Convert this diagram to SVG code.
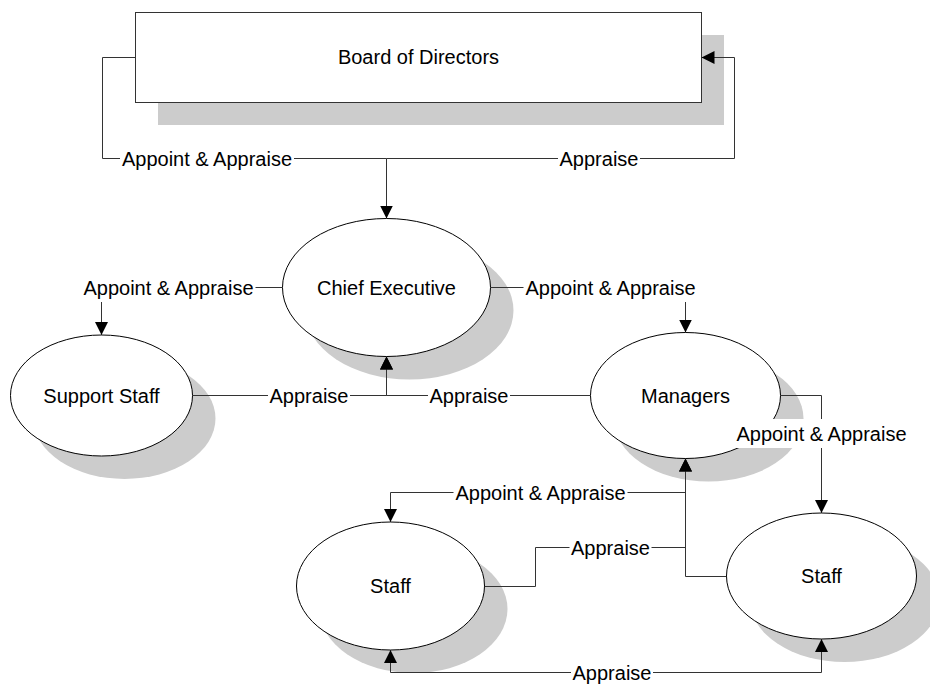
<svg xmlns="http://www.w3.org/2000/svg" width="930" height="685" viewBox="0 0 930 685">
  <style>
    .shadow { fill: #cccccc; stroke: none; }
    .node { fill: #ffffff; stroke: #000000; stroke-width: 1; }
    .box { fill: #ffffff; stroke: #333333; stroke-width: 1; }
    .txt { font-family: "Liberation Sans", Arial, sans-serif; font-size: 20px; fill: #000000; text-anchor: middle; }
    .conn { fill: none; stroke: #333333; stroke-width: 1; }
    .lblbg { fill: #ffffff; stroke: none; }
  </style>
  <defs>
    <marker id="arrow" markerUnits="userSpaceOnUse" markerWidth="14" markerHeight="14" refX="13" refY="6.5" orient="auto-start-reverse">
      <path d="M0,0 L13,6.5 L0,13 Z" fill="#000000"/>
    </marker>
  </defs>

  <rect width="930" height="685" fill="#ffffff"/>

  <!-- nodes -->
  <g id="board">
    <rect class="shadow" x="158" y="35" width="566" height="90"/>
    <rect class="box" x="135.5" y="12.5" width="566" height="90"/>
    <text class="txt" x="418.5" y="64">Board of Directors</text>
  </g>
  <g id="chief-executive">
    <ellipse class="shadow" cx="409.5" cy="310.5" rx="104" ry="69"/>
    <ellipse class="node" cx="386.5" cy="287.5" rx="104" ry="69"/>
    <text class="txt" x="386.5" y="294.5">Chief Executive</text>
  </g>
  <g id="support-staff">
    <ellipse class="shadow" cx="124.5" cy="418.5" rx="91" ry="60.5"/>
    <ellipse class="node" cx="101.5" cy="395.5" rx="91" ry="60.5"/>
    <text class="txt" x="101.5" y="402.5">Support Staff</text>
  </g>
  <g id="managers">
    <ellipse class="shadow" cx="708.5" cy="418.5" rx="95" ry="63"/>
    <ellipse class="node" cx="685.5" cy="395.5" rx="95" ry="63"/>
    <text class="txt" x="685.5" y="402.5">Managers</text>
  </g>
  <g id="staff-left">
    <ellipse class="shadow" cx="413.5" cy="609" rx="94" ry="64"/>
    <ellipse class="node" cx="390.5" cy="586" rx="94" ry="64"/>
    <text class="txt" x="390.5" y="593">Staff</text>
  </g>
  <g id="staff-right">
    <ellipse class="shadow" cx="844.5" cy="599" rx="95" ry="63"/>
    <ellipse class="node" cx="821.5" cy="576" rx="95" ry="63"/>
    <text class="txt" x="821.5" y="583">Staff</text>
  </g>

  <!-- connectors -->
  <g id="connectors">
    <path class="conn" d="M135,57.5 H102.5 V158.5 H386.5 V218.5" marker-end="url(#arrow)"/>
    <path class="conn" d="M386.5,158.5 H734.5 V57.5 H701.5" marker-end="url(#arrow)"/>
    <path class="conn" d="M282.5,287.5 H101.5 V335" marker-end="url(#arrow)"/>
    <path class="conn" d="M490.5,287.5 H685.5 V332.5" marker-end="url(#arrow)"/>
    <path class="conn" d="M192.5,395.5 H386.5 V356.5" marker-end="url(#arrow)"/>
    <path class="conn" d="M590.5,395.5 H386.5 V356.5" marker-end="url(#arrow)"/>
    <path class="conn" d="M780.5,395.5 H821.5 V513" marker-end="url(#arrow)"/>
    <path class="conn" d="M685.5,458.5 V492.5 H390.5 V522" marker-end="url(#arrow)"/>
    <path class="conn" d="M484.5,586.5 H535.5 V547.5 H685.5 V458.5" marker-end="url(#arrow)"/>
    <path class="conn" d="M726.5,576.5 H685.5 V458.5" marker-end="url(#arrow)"/>
    <path class="conn" d="M390.5,650 V672.5 H821.5 V639" marker-start="url(#arrow)" marker-end="url(#arrow)"/>

    <!-- connector labels -->
    <rect class="lblbg" x="120" y="144" width="174" height="29"/>
    <text class="txt" x="207" y="165.5">Appoint &amp; Appraise</text>
    <rect class="lblbg" x="558" y="144" width="82" height="29"/>
    <text class="txt" x="599" y="165.5">Appraise</text>
    <rect class="lblbg" x="81.5" y="273" width="174" height="29"/>
    <text class="txt" x="168.5" y="294.5">Appoint &amp; Appraise</text>
    <rect class="lblbg" x="523.5" y="273" width="174" height="29"/>
    <text class="txt" x="610.5" y="294.5">Appoint &amp; Appraise</text>
    <rect class="lblbg" x="268" y="381" width="82" height="29"/>
    <text class="txt" x="309" y="402.5">Appraise</text>
    <rect class="lblbg" x="428" y="381" width="82" height="29"/>
    <text class="txt" x="469" y="402.5">Appraise</text>
    <rect class="lblbg" x="734.5" y="419" width="174" height="29"/>
    <text class="txt" x="821.5" y="440.5">Appoint &amp; Appraise</text>
    <rect class="lblbg" x="453.5" y="478" width="174" height="29"/>
    <text class="txt" x="540.5" y="499.5">Appoint &amp; Appraise</text>
    <rect class="lblbg" x="569.5" y="533" width="82" height="29"/>
    <text class="txt" x="610.5" y="554.5">Appraise</text>
    <rect class="lblbg" x="571" y="658" width="82" height="29"/>
    <text class="txt" x="612" y="679.5">Appraise</text>
  </g>
</svg>
